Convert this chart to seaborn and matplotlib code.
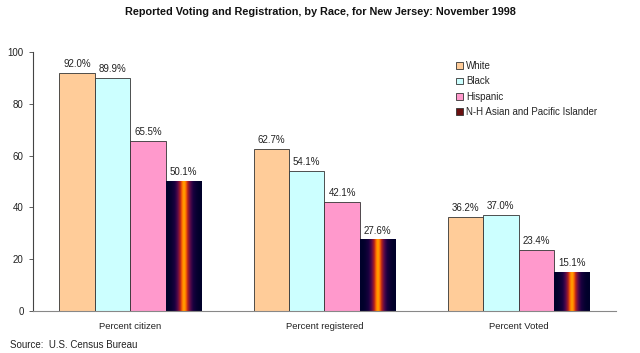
import numpy as np
import pandas as pd
import matplotlib
matplotlib.use("Agg")
import matplotlib.pyplot as plt
import seaborn as sns
from matplotlib.colors import LinearSegmentedColormap
from matplotlib.patches import Patch

categories = ["Percent citizen", "Percent registered", "Percent Voted"]
races = ["White", "Black", "Hispanic", "N-H Asian and Pacific Islander"]
white = [92.0, 62.7, 36.2]
black = [89.9, 54.1, 37.0]
hispanic = [65.5, 42.1, 23.4]
asian = [50.1, 27.6, 15.1]
yticks = [0, 20, 40, 60, 80, 100]

rows = []
for race, vals in zip(races, [white, black, hispanic, asian]):
    for c, v in zip(categories, vals):
        rows.append({"cat": c, "race": race, "val": v})
df = pd.DataFrame(rows)

sns.set_theme(style="white")
plt.rcParams["font.family"] = ["Liberation Sans", "DejaVu Sans"]

palette = {"White": "#FFCC99", "Black": "#CCFFFF", "Hispanic": "#FF99CC",
           "N-H Asian and Pacific Islander": "#1a0a30"}

fig = plt.figure(figsize=(6.4, 3.53), dpi=100)
ax = fig.add_axes([0.052, 0.119, 0.91, 0.734])
sns.barplot(data=df, x="cat", y="val", hue="race", order=categories,
            hue_order=races, palette=palette, width=0.73, ax=ax,
            edgecolor="#333333", linewidth=0.6, legend=False, saturation=1)

ax.set_ylim(0, 100)
ax.set_xlim(-0.5, 2.5)
ax.set_yticks(yticks)
ax.set_yticklabels([str(t) for t in yticks], fontsize=7, color="#222222")
ax.tick_params(axis="y", which="major", direction="out", length=3, width=0.6,
               color="#444444", left=True, pad=4)
ax.tick_params(axis="x", length=0, labelsize=6.8, pad=8, labelcolor="#222222")
ax.set_xlabel("")
ax.set_ylabel("")
for s in ["top", "right"]:
    ax.spines[s].set_visible(False)
ax.spines["left"].set_color("#444444")
ax.spines["bottom"].set_color("#888888")
ax.spines["left"].set_linewidth(0.8)
ax.spines["bottom"].set_linewidth(0.8)

cmap = LinearSegmentedColormap.from_list(
    "grad", ["#00002a", "#1a0040", "#5a0a4a", "#b02020", "#ff6a00", "#ffa000"])
grad = np.linspace(-1, 1, 64)
grad = (1 - np.abs(grad)) ** 2.2
grad = grad[np.newaxis, :]

all_vals = [white, black, hispanic, asian]
for hi, container in enumerate(ax.containers):
    for bar, v in zip(container, all_vals[hi]):
        x0 = bar.get_x()
        w = bar.get_width()
        h = bar.get_height()
        ax.text(x0 + w / 2, h + 1.5, f"{v:.1f}%", ha="center", va="bottom",
                fontsize=7, color="#222222")
        if hi == 3:
            im = ax.imshow(grad, cmap=cmap, aspect="auto",
                           extent=[x0, x0 + w, 0, h], zorder=bar.get_zorder() + 0.1,
                           interpolation="bilinear")
            im.set_clip_path(bar)
ax.set_xlim(-0.5, 2.5)
ax.set_ylim(0, 100)

handles = [Patch(facecolor=palette[r] if r != races[3] else "#6a1010",
                 edgecolor="#333333", linewidth=0.6) for r in races]
ax.legend(handles, races, loc="upper left", bbox_to_anchor=(0.72, 0.98),
          frameon=False, fontsize=7, handlelength=0.7, handleheight=0.7,
          handletextpad=0.3, labelspacing=0.55, borderaxespad=0)

fig.text(0.5, 0.965, "Reported Voting and Registration, by Race, for New Jersey: November 1998",
         ha="center", va="center", fontsize=7.8, fontweight="bold", color="#111111")
fig.text(0.016, 0.022, "Source:  U.S. Census Bureau", ha="left", va="center",
         fontsize=7, color="#222222")

fig.savefig("out.png", dpi=100)
